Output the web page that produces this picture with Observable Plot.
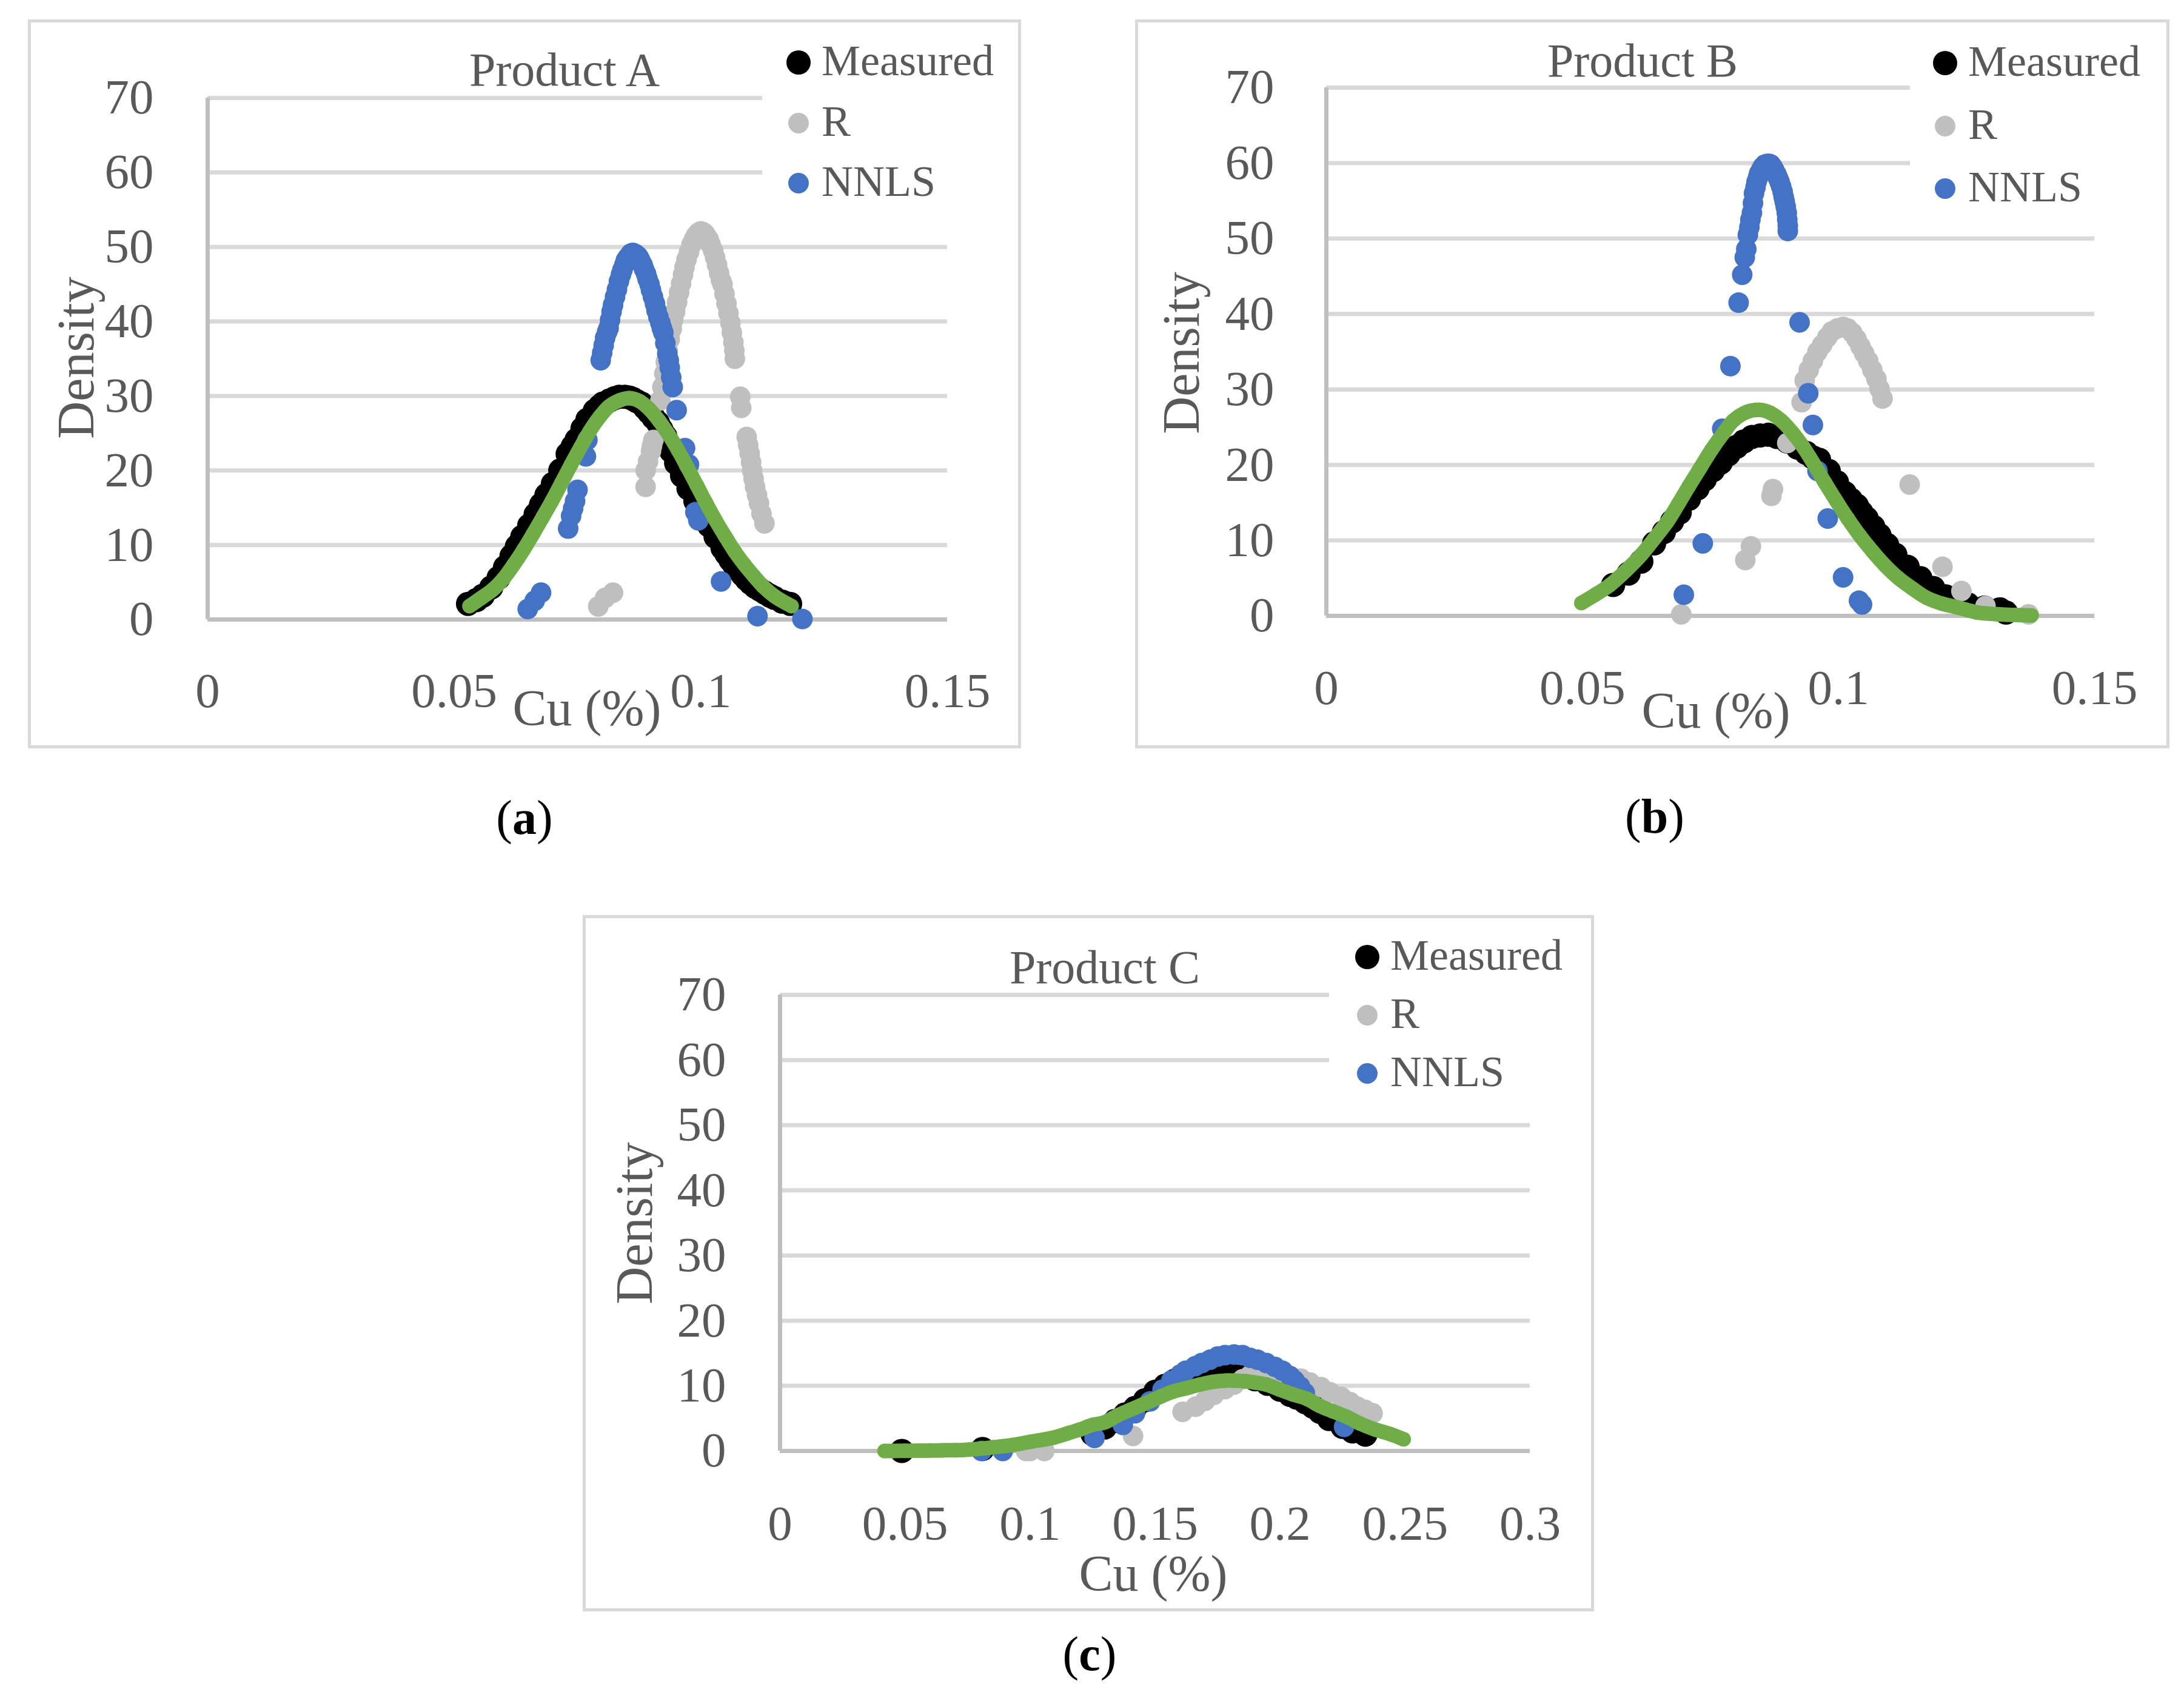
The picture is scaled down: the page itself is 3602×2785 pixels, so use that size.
<!DOCTYPE html>
<html><head><meta charset="utf-8">
<script src="https://cdn.jsdelivr.net/npm/d3@7"></script>
<script src="https://cdn.jsdelivr.net/npm/@observablehq/plot@0.6"></script>
<style>
html,body{margin:0;padding:0;background:#fff}
body{width:3602px;height:2785px;position:relative;overflow:hidden;font-family:"Liberation Serif","DejaVu Serif",serif;color:#595959}
.box{position:absolute;border:5px solid #d9d9d9;box-sizing:border-box}
.cover{position:absolute;background:#fff}
.t{position:absolute;white-space:nowrap;line-height:1;transform:translate(-50%,-50%)}
.lt{position:absolute;white-space:nowrap;line-height:1;transform:translate(0,-50%);font-size:72px}
.mk{position:absolute;border-radius:50%;transform:translate(-50%,-50%)}
.ylab{position:absolute;white-space:nowrap;line-height:1;font-size:86px;transform:translate(-50%,-50%) rotate(-90deg)}
.cap{position:absolute;white-space:nowrap;line-height:1;font-size:80px;color:#000;transform:translate(-50%,-50%)}
.plot{position:absolute}
</style>
</head><body>
<script>
// ---------- tick values ----------
const yTicks = [0, 10, 20, 30, 40, 50, 60, 70];
const xTicksAB = [0, 0.05, 0.1, 0.15];
const xTicksC = [0, 0.05, 0.1, 0.15, 0.2, 0.25, 0.3];
const seriesNames = ["Measured", "R", "NNLS"];

// ---------- Product A ----------
const aMeasuredX = [0.0528,0.0545,0.0558,0.0575,0.0590,0.0603,0.0616,0.0627,0.0638,0.0652,0.0665,0.0676,0.0687,0.0700,0.0715,0.0730,0.0740,0.0748,0.0760,0.0770,0.0785,0.0795,0.0802,0.0815,0.0825,0.0835,0.0846,0.0855,0.0862,0.0870,0.0879,0.0887,0.0895,0.0904,0.0913,0.0920,0.0928,0.0934,0.0940,0.0950,0.0962,0.0975,0.0989,0.1003,0.1017,0.1030,0.1044,0.1052,0.1060,0.1068,0.1077,0.1085,0.1093,0.1101,0.1110,0.1120,0.1130,0.1140,0.1149,0.1165,0.1181];
const aMeasuredY = [2.1,2.6,3.2,4.3,5.6,7.0,8.5,9.8,11.1,12.6,14.1,15.4,16.7,18.2,20.0,22.2,23.2,24.1,25.6,26.8,28.0,28.6,29.0,29.4,29.7,29.9,29.9,29.8,29.6,29.3,29.0,28.4,27.8,27.1,26.4,25.5,24.6,23.6,22.6,21.0,19.3,17.6,15.9,14.2,12.6,11.1,9.6,8.8,8.0,7.3,6.6,6.0,5.4,4.9,4.4,4.0,3.6,3.2,2.9,2.4,2.1];
const aRX = [0.0792,0.0806,0.0822,0.0888,0.0888,0.0893,0.0899,0.0901,0.0904,0.0918,0.0922,0.0926,0.0929,0.0933,0.0937,0.0941,0.0944,0.0948,0.0952,0.0956,0.0960,0.0964,0.0967,0.0971,0.0976,0.0981,0.0986,0.0990,0.0995,0.1000,0.1004,0.1008,0.1012,0.1016,0.1020,0.1025,0.1029,0.1033,0.1037,0.1041,0.1044,0.1048,0.1052,0.1056,0.1060,0.1063,0.1066,0.1068,0.1069,0.1080,0.1082,0.1093,0.1096,0.1099,0.1102,0.1104,0.1107,0.1110,0.1114,0.1118,0.1123,0.1129];
const aRY = [1.75,2.9,3.6,17.8,20.0,21.2,22.6,23.3,24.1,29.4,31.2,33.0,34.6,36.1,37.6,39.0,40.2,41.3,42.6,43.9,45.1,46.3,47.3,48.3,49.3,50.3,51.0,51.5,51.9,52.1,52.0,51.8,51.4,51.0,50.3,49.5,48.6,47.6,46.5,45.5,45.0,43.7,42.4,41.1,39.8,38.5,37.2,36.1,35.0,29.9,28.4,24.5,23.4,22.3,21.1,20.0,18.9,17.8,16.7,15.6,14.2,12.9];
const aNnlsX = [0.0649,0.0663,0.0676,0.0731,0.0737,0.0741,0.0745,0.0750,0.0767,0.0770,0.0797,0.0800,0.0803,0.0806,0.0810,0.0813,0.0816,0.0819,0.0822,0.0826,0.0830,0.0834,0.0838,0.0841,0.0845,0.0848,0.0852,0.0855,0.0858,0.0862,0.0865,0.0868,0.0872,0.0875,0.0878,0.0882,0.0885,0.0889,0.0892,0.0896,0.0899,0.0903,0.0907,0.0910,0.0914,0.0918,0.0921,0.0924,0.0928,0.0932,0.0935,0.0937,0.0940,0.0943,0.0951,0.0968,0.0976,0.0989,0.0995,0.1041,0.1115,0.1206];
const aNnlsY = [1.4,2.5,3.6,12.2,13.9,14.9,15.9,17.4,21.9,24.1,34.8,35.8,36.8,37.8,38.6,39.1,40.2,41.3,42.2,43.3,44.3,45.4,46.3,46.9,47.6,48.2,48.6,48.8,49.1,49.2,49.1,49.0,48.8,48.5,48.1,47.6,47.0,46.4,45.7,45.0,44.2,43.3,42.4,41.5,40.6,39.8,39.1,38.5,37.1,35.7,34.8,33.8,32.5,31.2,28.1,23.0,20.8,14.4,13.3,5.1,0.45,0.07];
const aFitX = [0.0531,0.0555,0.0578,0.0600,0.0621,0.0640,0.0660,0.0680,0.0698,0.0718,0.0737,0.0756,0.0775,0.0795,0.0814,0.0835,0.0855,0.0876,0.0896,0.0915,0.0934,0.0954,0.0973,0.0992,0.1011,0.1030,0.1050,0.1069,0.1088,0.1108,0.1127,0.1150,0.1184];
const aFitY = [1.8,2.9,4.0,5.5,7.4,9.3,11.5,13.8,15.9,18.4,20.8,23.1,25.3,27.2,28.6,29.4,29.7,29.3,28.2,26.7,24.9,22.7,20.4,18.0,15.6,13.3,11.1,9.1,7.4,5.8,4.4,3.1,1.8];

// ---------- Product B ----------
const bMeasuredX = [0.0560,0.0590,0.0615,0.0640,0.0659,0.0675,0.0690,0.0708,0.0725,0.0739,0.0755,0.0770,0.0785,0.0801,0.0815,0.0831,0.0847,0.0863,0.0880,0.0900,0.0920,0.0937,0.0950,0.0962,0.0981,0.0997,0.1012,0.1024,0.1036,0.1045,0.1055,0.1068,0.1080,0.1095,0.1111,0.1135,0.1160,0.1185,0.1209,0.1230,0.1253,0.1285,0.1315,0.1327];
const bMeasuredY = [4.1,5.6,7.2,9.6,11.1,12.5,13.7,15.5,16.9,18.1,19.3,20.3,21.4,22.4,23.1,23.7,23.9,24.0,23.7,23.1,22.3,21.6,21.0,20.7,19.2,17.7,16.3,15.4,14.6,13.7,12.9,11.8,10.7,9.4,8.1,6.5,5.0,3.7,2.6,2.0,1.5,1.1,0.87,0.44];
const bRX = [0.0693,0.0818,0.0829,0.0869,0.0872,0.0900,0.0928,0.0934,0.0942,0.0950,0.0959,0.0968,0.0978,0.0987,0.0998,0.1009,0.1018,0.1027,0.1035,0.1043,0.1050,0.1058,0.1066,0.1074,0.1080,0.1086,0.1139,0.1203,0.1240,0.1287,0.1371];
const bRY = [0.2,7.4,9.2,15.9,16.8,22.9,28.3,31.2,32.6,33.8,35.0,35.9,36.9,37.7,38.1,38.3,38.1,37.5,36.7,35.7,34.8,33.8,32.6,31.4,30.1,28.8,17.4,6.5,3.3,1.3,0.2];
const bNnlsX = [0.0698,0.0735,0.0773,0.0789,0.0805,0.0812,0.0817,0.0820,0.0823,0.0826,0.0828,0.0831,0.0833,0.0835,0.0838,0.0840,0.0843,0.0845,0.0849,0.0852,0.0856,0.0861,0.0865,0.0868,0.0872,0.0875,0.0879,0.0882,0.0885,0.0888,0.0891,0.0893,0.0895,0.0897,0.0899,0.0900,0.0901,0.0901,0.0924,0.0941,0.0950,0.0959,0.0979,0.1009,0.1040,0.1046];
const bNnlsY = [2.8,9.6,24.8,33.1,41.5,45.2,47.5,48.6,50.5,51.5,52.5,53.4,54.7,56.0,56.8,57.5,58.1,58.6,59.1,59.5,59.8,59.9,59.9,59.8,59.4,59.0,58.5,58.0,57.5,56.9,56.2,55.5,54.9,54.2,53.4,52.5,51.7,51.0,38.9,29.5,25.3,19.2,12.9,5.1,2.0,1.5];
const bFitX = [0.0498,0.0525,0.0554,0.0585,0.0615,0.0640,0.0665,0.0687,0.0708,0.0730,0.0752,0.0774,0.0795,0.0820,0.0845,0.0867,0.0888,0.0910,0.0931,0.0953,0.0974,0.0996,0.1018,0.1042,0.1067,0.1092,0.1117,0.1145,0.1172,0.1203,0.1234,0.1271,0.1309,0.1340,0.1377];
const bFitY = [1.7,2.8,4.1,6.0,8.1,10.2,12.4,14.8,17.2,19.6,22.0,24.1,25.9,27.0,27.3,26.9,25.9,24.3,22.4,20.0,17.6,15.2,12.9,10.6,8.5,6.6,5.0,3.6,2.4,1.6,1.1,0.45,0.22,0.13,0.05];

// ---------- Product C ----------
const cMeasuredX = [0.0487,0.0810,0.1250,0.1299,0.1340,0.1380,0.1420,0.1460,0.1501,0.1540,0.1580,0.1620,0.1660,0.1700,0.1751,0.1800,0.1850,0.1900,0.1950,0.2000,0.2040,0.2066,0.2100,0.2131,0.2160,0.2196,0.2250,0.2290,0.2341];
const cMeasuredY = [0,0.3,2.6,3.6,4.6,5.6,6.6,7.8,9.1,10.0,10.8,11.3,11.6,11.8,11.8,11.8,11.5,11.0,10.3,9.4,8.6,8.2,7.5,6.8,6.0,4.9,3.7,3.0,2.5];
const cRX = [0.0984,0.1000,0.1057,0.1412,0.1610,0.1662,0.1700,0.1735,0.1780,0.1816,0.1850,0.1880,0.1920,0.1960,0.1987,0.2030,0.2083,0.2120,0.2164,0.2200,0.2245,0.2280,0.2309,0.2340,0.2370];
const cRY = [0,0,0,2.3,6.0,6.8,7.7,8.6,9.5,10.2,11.0,11.6,12.0,12.2,12.0,11.6,11.1,10.5,9.8,9.0,8.3,7.5,6.8,6.3,5.8];
const cNnlsX = [0.0806,0.0891,0.1258,0.1371,0.1420,0.1480,0.1530,0.1565,0.1600,0.1622,0.1660,0.1687,0.1720,0.1751,0.1780,0.1816,0.1850,0.1880,0.1910,0.1945,0.1980,0.2010,0.2040,0.2058,0.2080,0.2099,0.2256];
const cNnlsY = [0,0,2.0,4.0,5.8,7.6,9.4,10.8,11.7,12.3,13.0,13.5,14.0,14.5,14.7,14.8,14.7,14.3,14.0,13.5,12.9,12.3,11.5,10.8,9.9,8.9,3.7];
const cFitX = [0.0418,0.0450,0.0500,0.0550,0.0600,0.0650,0.0700,0.0733,0.0800,0.0850,0.0927,0.1000,0.1089,0.1150,0.1200,0.1250,0.1299,0.1347,0.1400,0.1460,0.1520,0.1570,0.1622,0.1680,0.1730,0.1784,0.1816,0.1860,0.1900,0.1945,0.2000,0.2050,0.2107,0.2160,0.2210,0.2269,0.2320,0.2380,0.2440,0.2494];
const cFitY = [0,0,0.02,0.04,0.06,0.1,0.12,0.15,0.35,0.55,0.9,1.4,2.0,2.7,3.3,4.0,4.4,5.4,6.3,7.3,8.3,9.1,9.6,10.2,10.6,10.8,10.8,10.7,10.5,10.2,9.4,8.7,8.0,6.9,6.1,5.2,4.2,3.3,2.6,1.8];

const zip = (xs, ys) => xs.map((x, i) => ({x, y: ys[i]}));
const COLORS = {Measured: "#000000", R: "#bfbfbf", NNLS: "#4472c4", fit: "#70ad47"};

function addEl(cls, css, html) {
  const d = document.createElement("div");
  d.className = cls;
  Object.assign(d.style, css);
  if (html != null) d.innerHTML = html;
  document.body.appendChild(d);
  return d;
}

function panel(p) {
  addEl("box", {left: p.box[0] + "px", top: p.box[1] + "px", width: (p.box[2] - p.box[0]) + "px", height: (p.box[3] - p.box[1]) + "px"});
  const ml = 192, mr = 80, mt = 80, mb = 200;
  const chart = Plot.plot({
    width: p.plotR - p.plotL + ml + mr,
    height: p.plotB - p.plotT + mt + mb,
    marginLeft: ml, marginRight: mr, marginTop: mt, marginBottom: mb,
    x: {domain: [0, p.xmax]},
    y: {domain: [0, 70]},
    style: {fontFamily: '"Liberation Serif", serif', fontSize: "81px", color: "#595959", background: "transparent", overflow: "visible"},
    marks: [
      Plot.gridY(yTicks, {stroke: "#d9d9d9", strokeWidth: 7, strokeOpacity: 1}),
      Plot.ruleY([0], {stroke: "#bfbfbf", strokeWidth: 7}),
      Plot.ruleX([0], {stroke: "#bfbfbf", strokeWidth: 7}),
      Plot.axisY(yTicks, {tickSize: 0, tickPadding: p.ypad, label: null, tickFormat: d => String(d)}),
      Plot.axisX(p.xticks, {tickSize: 0, tickPadding: p.xpad, label: null, tickFormat: d => String(d)}),
      Plot.dot(zip(p.mx, p.my), {x: "x", y: "y", r: 20, fill: COLORS.Measured, stroke: null}),
      Plot.dot(zip(p.rx, p.ry), {x: "x", y: "y", r: 17, fill: COLORS.R, stroke: null}),
      Plot.dot(zip(p.nx, p.ny), {x: "x", y: "y", r: 17, fill: COLORS.NNLS, stroke: null}),
      Plot.line(zip(p.fx, p.fy), {x: "x", y: "y", stroke: COLORS.fit, strokeWidth: 24, curve: "catmull-rom", strokeLinecap: "round", strokeLinejoin: "round"}),
      Plot.dot(zip(p.fx, p.fy), {x: "x", y: "y", r: 12, fill: COLORS.fit, stroke: null})
    ]
  });
  chart.classList.add("plot");
  chart.style.left = (p.plotL - ml) + "px";
  chart.style.top = (p.plotT - mt) + "px";
  document.body.appendChild(chart);

  addEl("cover", {left: p.cover[0] + "px", top: p.cover[1] + "px", width: p.cover[2] + "px", height: p.cover[3] + "px"});
  addEl("t", {left: p.title[0] + "px", top: p.title[1] + "px", fontSize: "78px"}, p.name);
  seriesNames.forEach((s, i) => {
    const y = p.leg[1] + i * p.leg[2];
    const r = s === "Measured" ? 40 : 34;
    addEl("mk", {left: p.leg[0] + "px", top: y + "px", width: r + "px", height: r + "px", background: COLORS[s]});
    addEl("lt", {left: (p.leg[0] + 38) + "px", top: (y - 3) + "px"}, s);
  });
  addEl("ylab", {left: p.ylab[0] + "px", top: p.ylab[1] + "px"}, "Density");
  addEl("t", {left: p.xlab[0] + "px", top: p.xlab[1] + "px", fontSize: "84px"}, "Cu (%)");
  addEl("cap", {left: p.cap[0] + "px", top: p.cap[1] + "px"}, "(<b>" + p.letter + "</b>)");
}

panel({name: "Product A", letter: "a", box: [46, 32, 1684, 1234],
  plotL: 342, plotR: 1562, plotT: 161, plotB: 1021, xmax: 0.15, xticks: xTicksAB, xpad: 87, ypad: 89,
  mx: aMeasuredX, my: aMeasuredY, rx: aRX, ry: aRY, nx: aNnlsX, ny: aNnlsY, fx: aFitX, fy: aFitY,
  cover: [1257, 45, 400, 310], title: [931, 115], leg: [1317, 103, 99.5], ylab: [125, 590], xlab: [968, 1168], cap: [865, 1348]});

panel({name: "Product B", letter: "b", box: [1872, 32, 3578, 1234],
  plotL: 2187, plotR: 3454, plotT: 144, plotB: 1015, xmax: 0.15, xticks: xTicksAB, xpad: 88, ypad: 86,
  mx: bMeasuredX, my: bMeasuredY, rx: bRX, ry: bRY, nx: bNnlsX, ny: bNnlsY, fx: bFitX, fy: bFitY,
  cover: [3150, 45, 400, 300], title: [2709, 100], leg: [3208, 104, 103.5], ylab: [1948, 582], xlab: [2830, 1172], cap: [2729, 1346]});

panel({name: "Product C", letter: "c", box: [961, 1509, 2629, 2657],
  plotL: 1286, plotR: 2523, plotT: 1640, plotB: 2392, xmax: 0.3, xticks: xTicksC, xpad: 89, ypad: 89,
  mx: cMeasuredX, my: cMeasuredY, rx: cRX, ry: cRY, nx: cNnlsX, ny: cNnlsY, fx: cFitX, fy: cFitY,
  cover: [2192, 1525, 400, 285], title: [1822, 1595], leg: [2255, 1578, 96], ylab: [1046, 2017], xlab: [1902, 2595], cap: [1797, 2727]});
</script>
</body></html>
